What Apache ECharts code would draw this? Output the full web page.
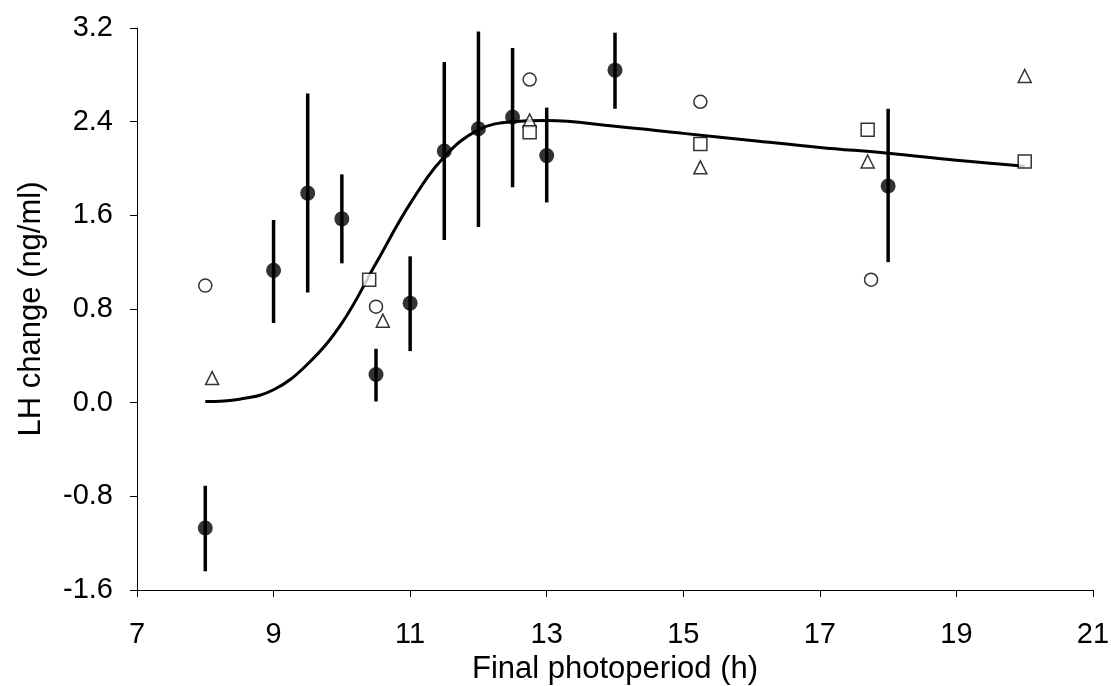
<!DOCTYPE html>
<html>
<head>
<meta charset="utf-8">
<script src="https://cdn.jsdelivr.net/npm/echarts@6/dist/echarts.min.js"></script>
<style>
  html, body { margin: 0; padding: 0; background: #fff; }
  #main { width: 1111px; height: 686px; }
</style>
</head>
<body>
<div id="main"></div>
<script>
// mean +/- error (filled circles)
var meanX = [8, 9, 9.5, 10, 10.5, 11, 11.5, 12, 12.5, 13, 14, 18];
var meanY = [-1.07, 1.13, 1.79, 1.57, 0.24, 0.85, 2.15, 2.34, 2.44, 2.11, 2.84, 1.85];
var errHigh = [-0.71, 1.56, 2.64, 1.95, 0.46, 1.25, 2.91, 3.17, 3.03, 2.52, 3.16, 2.51];
var errLow = [-1.44, 0.68, 0.94, 1.19, 0.01, 0.44, 1.39, 1.50, 1.84, 1.71, 2.51, 1.20];

// open symbols
var circleX = [8, 10.5, 12.75, 15.25, 17.75];
var circleY = [1.0, 0.82, 2.76, 2.57, 1.05];
var triX = [8.1, 10.6, 12.75, 15.25, 17.7, 20];
var triY = [0.21, 0.70, 2.41, 2.01, 2.06, 2.79];
var sqX = [10.4, 12.75, 15.25, 17.7, 20];
var sqY = [1.05, 2.31, 2.21, 2.33, 2.06];

// fitted curve
var curveX = [8, 8.5, 9, 9.5, 10, 10.5, 11, 11.5, 12, 12.5, 13, 14, 15, 16, 17, 18, 19, 20];
var curveY = [0.01, 0.03, 0.11, 0.33, 0.68, 1.19, 1.70, 2.10, 2.33, 2.40, 2.41, 2.36, 2.30, 2.24, 2.18, 2.13, 2.07, 2.02];

function pairs(xs, ys) {
  var out = [];
  for (var i = 0; i < xs.length; i++) {
    out.push([xs[i], ys[i]]);
  }
  return out;
}

var errData = [];
for (var i = 0; i < meanX.length; i++) {
  errData.push([meanX[i], errLow[i], errHigh[i]]);
}

var font = "'Liberation Sans', Arial, sans-serif";
var openStyle = { color: '#fff', borderColor: '#000', borderWidth: 1.5 };

var chart = echarts.init(document.getElementById('main'));
chart.setOption({
  animation: false,
  backgroundColor: '#fff',
  grid: { left: 137, right: 18, top: 28, bottom: 96, containLabel: false, outerBoundsMode: 'none' },
  xAxis: {
    type: 'value', min: 7, max: 21, interval: 2,
    name: 'Final photoperiod (h)', nameLocation: 'middle', nameGap: 56,
    nameTextStyle: { fontFamily: font, fontSize: 31, color: '#000' },
    axisLine: { onZero: false, lineStyle: { color: '#000', width: 1 } },
    axisTick: { show: true, length: 7, lineStyle: { color: '#000' } },
    axisLabel: { fontFamily: font, fontSize: 29, color: '#000', margin: 30 },
    splitLine: { show: false }
  },
  yAxis: {
    type: 'value', min: -1.6, max: 3.2, interval: 0.8,
    name: 'LH change (ng/ml)', nameLocation: 'middle', nameGap: 90,
    nameTextStyle: { fontFamily: font, fontSize: 31, color: '#000' },
    axisLine: { show: true, lineStyle: { color: '#000', width: 1 } },
    axisTick: { show: true, length: 7, lineStyle: { color: '#000' } },
    axisLabel: {
      fontFamily: font, fontSize: 29, color: '#000', margin: 24,
      formatter: function (v) { return v.toFixed(1); }
    },
    splitLine: { show: false }
  },
  series: [
    {
      type: 'line', data: pairs(curveX, curveY), smooth: 0.4,
      symbol: 'none', lineStyle: { color: '#000', width: 3 }, z: 2
    },
    {
      type: 'custom', data: errData, z: 3,
      renderItem: function (params, api) {
        var lo = api.coord([api.value(0), api.value(1)]);
        var hi = api.coord([api.value(0), api.value(2)]);
        return {
          type: 'line',
          shape: { x1: lo[0], y1: lo[1], x2: hi[0], y2: hi[1] },
          style: { stroke: '#000', lineWidth: 3.5 }
        };
      }
    },
    {
      type: 'scatter', data: pairs(meanX, meanY), symbol: 'circle', symbolSize: 15,
      itemStyle: { color: '#000' }, z: 4
    },
    {
      type: 'scatter', data: pairs(circleX, circleY), symbol: 'circle', symbolSize: 13,
      itemStyle: openStyle, z: 4
    },
    {
      type: 'scatter', data: pairs(triX, triY), symbol: 'triangle', symbolSize: 13,
      itemStyle: openStyle, z: 4
    },
    {
      type: 'scatter', data: pairs(sqX, sqY), symbol: 'rect', symbolSize: 13,
      itemStyle: openStyle, z: 4
    }
  ]
});
</script>
</body>
</html>
